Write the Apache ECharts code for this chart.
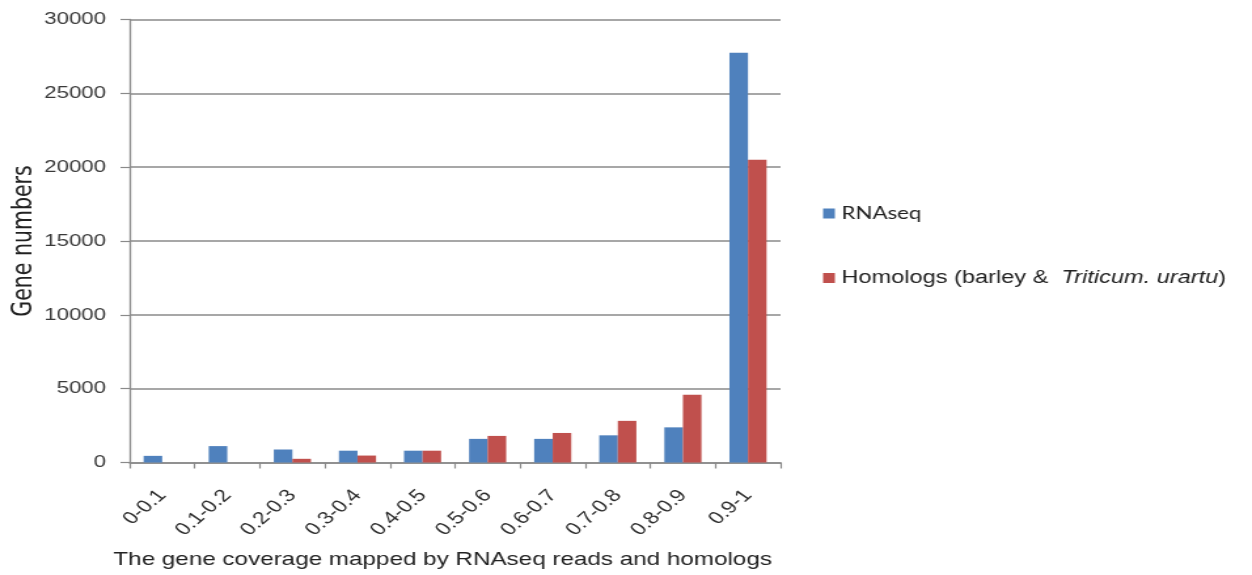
<!DOCTYPE html>
<html>
<head>
<meta charset="utf-8">
<title>Gene coverage</title>
<script src="https://cdn.jsdelivr.net/npm/echarts@6/dist/echarts.min.js"></script>
<style>
  html, body { margin: 0; padding: 0; background: #ffffff; overflow: hidden; }
  /* the chart is laid out narrower and widened horizontally */
  #chart { width: 956px; height: 575px; transform: scaleX(1.3096); transform-origin: 0 0; }
</style>
</head>
<body>
<div id="chart"></div>
<script>
// Coverage bins
const categories = ['0-0.1', '0.1-0.2', '0.2-0.3', '0.3-0.4', '0.4-0.5', '0.5-0.6', '0.6-0.7', '0.7-0.8', '0.8-0.9', '0.9-1'];
// Gene counts per bin
const rnaseqCounts = [450, 1110, 880, 800, 800, 1600, 1600, 1840, 2380, 27750];
const homologCounts = [0, 0, 250, 470, 800, 1800, 2000, 2820, 4590, 20500];
// Value axis ticks
const yMin = 0;
const yMax = 30000;
const yStep = 5000;

const rnaseqName = 'RNAseq';
const homologName = 'Homologs (barley & Triticum. urartu)';

const chart = echarts.init(document.getElementById('chart'));

chart.setOption({
  backgroundColor: '#ffffff',
  animation: false,
  color: ['#4F81BD', '#C0504D'],
  grid: { left: 99, right: 360, top: 19.5, bottom: 112.5, containLabel: false, outerBoundsMode: 'none' },
  legend: {
    orient: 'vertical',
    left: 623.5,
    top: 200,
    itemWidth: 9,
    itemHeight: 10,
    itemGap: 47,
    icon: 'rect',
    data: [rnaseqName, homologName],
    formatter: function (name) {
      if (name === rnaseqName) return '{r|RNAseq}';
      return '{n|Homologs (barley &  }{i|Triticum. urartu}{n|)}';
    },
    textStyle: {
      color: '#222222',
      rich: {
        r: { fontFamily: 'Lato', fontSize: 17, color: '#222222' },
        n: { fontFamily: 'Liberation Sans', fontSize: 18, color: '#222222' },
        i: { fontFamily: 'Liberation Sans', fontSize: 18, fontStyle: 'italic', color: '#222222' }
      }
    }
  },
  xAxis: {
    type: 'category',
    data: categories,
    boundaryGap: true,
    name: 'The gene coverage mapped by RNAseq reads and homologs',
    nameLocation: 'middle',
    nameGap: 88,
    nameTextStyle: { fontFamily: 'Liberation Sans', fontSize: 18.5, color: '#222222', padding: [0, 19, 0, 0] },
    axisLine: { show: true, lineStyle: { color: '#8a8a8a', width: 1.5 } },
    axisTick: { show: true, alignWithLabel: false, length: 6, lineStyle: { color: '#8a8a8a', width: 1.2 } },
    axisLabel: { rotate: 48, margin: 30, interval: 0, fontFamily: 'Liberation Sans', fontSize: 17.5, color: '#2e2e2e' },
    splitLine: { show: false }
  },
  yAxis: {
    type: 'value',
    min: yMin,
    max: yMax,
    interval: yStep,
    name: 'Gene numbers',
    nameLocation: 'middle',
    nameGap: 70,
    nameMoveOverlap: false,
    nameTextStyle: { fontFamily: 'DejaVu Sans', fontSize: 20.5, color: '#222222' },
    axisLine: { show: true, lineStyle: { color: '#8a8a8a', width: 1.3 } },
    axisTick: { show: true, inside: false, length: 7, lineStyle: { color: '#8a8a8a', width: 1.2 } },
    axisLabel: {
      margin: 18,
      fontFamily: 'Liberation Sans',
      fontSize: 17,
      color: '#3a3a3a',
      formatter: function (v) { return String(v); }
    },
    splitLine: { show: true, lineStyle: { color: '#8a8a8a', width: 1.5 } }
  },
  series: [
    {
      name: rnaseqName,
      type: 'bar',
      data: rnaseqCounts,
      barGap: '0%',
      barCategoryGap: '43%'
    },
    {
      name: homologName,
      type: 'bar',
      data: homologCounts,
      barGap: '0%',
      barCategoryGap: '43%'
    }
  ]
});
</script>
</body>
</html>
